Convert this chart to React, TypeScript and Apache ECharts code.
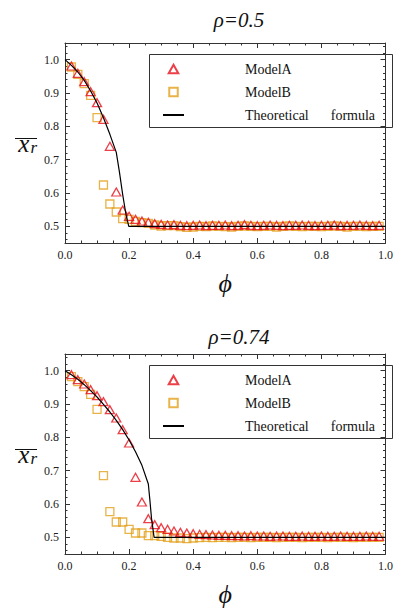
import React, { useEffect, useRef } from "react";
import * as echarts from "echarts";

// phi values of the simulated points
const PHI = [
  0.02, 0.04, 0.06, 0.08, 0.1, 0.12, 0.14, 0.16, 0.18, 0.2,
  0.22, 0.24, 0.26, 0.28, 0.3, 0.32, 0.34, 0.36, 0.38, 0.4,
  0.42, 0.44, 0.46, 0.48, 0.5, 0.52, 0.54, 0.56, 0.58, 0.6,
  0.62, 0.64, 0.66, 0.68, 0.7, 0.72, 0.74, 0.76, 0.78, 0.8,
  0.82, 0.84, 0.86, 0.88, 0.9, 0.92, 0.94, 0.96, 0.98,
];

// rho = 0.5
const TOP_A = [
  0.978, 0.956, 0.931, 0.901, 0.868, 0.818, 0.737, 0.6, 0.546, 0.527,
  0.518, 0.513, 0.509, 0.505, 0.503, 0.501, 0.502, 0.5, 0.499, 0.5,
  0.501, 0.499, 0.5, 0.5, 0.501, 0.499, 0.5, 0.502, 0.5, 0.499,
  0.5, 0.501, 0.5, 0.499, 0.5, 0.5, 0.501, 0.5, 0.499, 0.5,
  0.5, 0.501, 0.499, 0.5, 0.5, 0.501, 0.5, 0.499, 0.5,
];
const TOP_B = [
  0.978, 0.956, 0.928, 0.893, 0.826, 0.624, 0.567, 0.543, 0.523, 0.521,
  0.515, 0.511, 0.509, 0.504, 0.501, 0.502, 0.502, 0.499, 0.497, 0.498,
  0.5, 0.499, 0.501, 0.5, 0.499, 0.498, 0.5, 0.501, 0.5, 0.499,
  0.5, 0.5, 0.498, 0.5, 0.501, 0.5, 0.499, 0.5, 0.5, 0.499,
  0.5, 0.501, 0.5, 0.498, 0.5, 0.5, 0.499, 0.5, 0.5,
];
const TH_TOP_X = [0, 0.02, 0.04, 0.06, 0.08, 0.1, 0.12, 0.14, 0.16, 0.17, 0.18, 0.19, 0.199, 1.0];
const TH_TOP_Y = [1.0, 0.983, 0.963, 0.938, 0.906, 0.87, 0.826, 0.776, 0.722, 0.662, 0.595, 0.537, 0.5, 0.5];

// rho = 0.74
const BOT_A = [
  0.985, 0.97, 0.957, 0.94, 0.922, 0.904, 0.88, 0.855, 0.82, 0.78,
  0.677, 0.603, 0.553, 0.535, 0.526, 0.521, 0.516, 0.512, 0.51, 0.508,
  0.506, 0.505, 0.504, 0.503, 0.503, 0.502, 0.502, 0.501, 0.502, 0.501,
  0.501, 0.5, 0.501, 0.501, 0.5, 0.5, 0.501, 0.5, 0.5, 0.501,
  0.5, 0.5, 0.501, 0.5, 0.5, 0.5, 0.501, 0.5, 0.5,
];
const BOT_B = [
  0.982, 0.967, 0.952, 0.929, 0.884, 0.685, 0.577, 0.546, 0.546, 0.524,
  0.513, 0.513, 0.505, 0.505, 0.503, 0.5, 0.498, 0.498, 0.496, 0.498,
  0.499, 0.5, 0.499, 0.5, 0.5, 0.499, 0.5, 0.5, 0.499, 0.5,
  0.5, 0.5, 0.499, 0.5, 0.5, 0.5, 0.499, 0.5, 0.5, 0.5,
  0.499, 0.5, 0.5, 0.5, 0.499, 0.5, 0.5, 0.5, 0.5,
];
const TH_BOT_X = [0, 0.02, 0.04, 0.06, 0.08, 0.1, 0.12, 0.14, 0.16, 0.18, 0.2, 0.22, 0.24, 0.26, 0.265, 0.27, 0.278, 1.0];
const TH_BOT_Y = [1.0, 0.988, 0.974, 0.958, 0.94, 0.921, 0.899, 0.876, 0.851, 0.823, 0.792, 0.757, 0.716, 0.66, 0.61, 0.556, 0.5, 0.5];

// ticks
const X_MAJOR = [0, 0.2, 0.4, 0.6, 0.8, 1.0];
const X_MINOR = [0.05, 0.1, 0.15, 0.25, 0.3, 0.35, 0.45, 0.5, 0.55, 0.65, 0.7, 0.75, 0.85, 0.9, 0.95];
const Y_MAJOR = [0.5, 0.6, 0.7, 0.8, 0.9, 1.0];
const Y_MINOR = [
  0.46, 0.48, 0.52, 0.54, 0.56, 0.58, 0.62, 0.64, 0.66, 0.68, 0.72, 0.74, 0.76, 0.78,
  0.82, 0.84, 0.86, 0.88, 0.92, 0.94, 0.96, 0.98, 1.02, 1.04,
];

const TITLES = ["ρ=0.5", "ρ=0.74"];
const NAMES = ["ModelA", "ModelB", "Theoretical formula"];

const SERIF = "Liberation Serif";
const RED = "#e6101a";
const ORANGE = "#e2a01b";
const FRAME = "#333333";
const INK = "#111111";

const TRI_ICON = "path://M4.5,0L9,8L0,8Z";
const SQ_ICON = "path://M0,0L1,0L1,1L0,1Z";

const pairs = (xs: number[], ys: number[]) => xs.map((x, i) => [x, ys[i]]);

export default function App() {
  const ref = useRef<HTMLDivElement>(null);
  useEffect(() => {
    const chart = echarts.init(ref.current!, null, { renderer: "svg" });
    const gridTops = [43, 354];
    const panels = [
      { a: TOP_A, b: TOP_B, tx: TH_TOP_X, ty: TH_TOP_Y },
      { a: BOT_A, b: BOT_B, tx: TH_BOT_X, ty: TH_BOT_Y },
    ];
    const grid: any[] = [];
    const xAxis: any[] = [];
    const yAxis: any[] = [];
    const series: any[] = [];
    const legend: any[] = [];
    const title: any[] = [];
    const graphic: any[] = [];

    const tickRich = { n: { fontFamily: SERIF, fontSize: 12, color: "#222" } };

    panels.forEach((p, g) => {
      const top = gridTops[g];
      grid.push({ left: 65, top, width: 327, height: 200, show: false });
      const xBase = xAxis.length;
      const yBase = yAxis.length;
      const mkX = (position: string, major: boolean, labels: boolean) => ({
        type: "value",
        gridIndex: g,
        min: 0,
        max: 1,
        position,
        axisLine: { show: major, onZero: false, lineStyle: { color: FRAME, width: 1 } },
        axisTick: {
          show: true,
          inside: true,
          length: major ? 5 : 2.5,
          customValues: major ? X_MAJOR : X_MINOR,
          lineStyle: { color: FRAME, width: 1 },
        },
        axisLabel: {
          show: labels,
          customValues: X_MAJOR,
          formatter: (v: number) => "{n|" + v.toFixed(1) + "}",
          rich: tickRich,
          margin: 6,
          fontFamily: SERIF,
          fontSize: 12,
          showMinLabel: true,
          showMaxLabel: true,
        },
        splitLine: { show: false },
        name: labels ? "{p|ϕ}" : "",
        nameLocation: "middle",
        nameGap: 27,
        nameTextStyle: {
          fontFamily: SERIF,
          rich: { p: { fontFamily: SERIF, fontStyle: "italic", fontSize: 26, color: INK } },
        },
      });
      const mkY = (position: string, major: boolean, labels: boolean) => ({
        type: "value",
        gridIndex: g,
        min: 0.45,
        max: 1.05,
        position,
        axisLine: { show: major, onZero: false, lineStyle: { color: FRAME, width: 1 } },
        axisTick: {
          show: true,
          inside: true,
          length: major ? 5 : 2.5,
          customValues: major ? Y_MAJOR : Y_MINOR,
          lineStyle: { color: FRAME, width: 1 },
        },
        axisLabel: {
          show: labels,
          customValues: Y_MAJOR,
          formatter: (v: number) => "{n|" + v.toFixed(1) + "}",
          rich: tickRich,
          margin: 6,
          fontFamily: SERIF,
          fontSize: 12,
          showMinLabel: true,
          showMaxLabel: true,
        },
        splitLine: { show: false },
        name: labels ? "{x|x}{r|r}" : "",
        nameLocation: "middle",
        nameRotate: 0,
        nameGap: 28,
        nameTextStyle: {
          fontFamily: SERIF,
          rich: {
            x: { fontFamily: SERIF, fontStyle: "italic", fontSize: 25, color: INK },
            r: { fontFamily: SERIF, fontStyle: "italic", fontSize: 17, color: INK, padding: [8, 0, 0, 1] },
          },
        },
      });
      xAxis.push(mkX("bottom", true, true), mkX("bottom", false, false), mkX("top", true, false), mkX("top", false, false));
      yAxis.push(mkY("left", true, true), mkY("left", false, false), mkY("right", true, false), mkY("right", false, false));

      series.push(
        {
          type: "scatter",
          name: NAMES[0],
          xAxisIndex: xBase,
          yAxisIndex: yBase,
          symbol: "triangle",
          symbolSize: [9, 8],
          symbolOffset: [0, -1],
          itemStyle: { color: "rgba(255,255,255,0)", borderColor: RED, borderWidth: 1.3 },
          data: pairs(PHI, p.a),
          z: 3,
        },
        {
          type: "scatter",
          name: NAMES[1],
          xAxisIndex: xBase,
          yAxisIndex: yBase,
          symbol: "rect",
          symbolSize: 8,
          itemStyle: { color: "rgba(255,255,255,0)", borderColor: ORANGE, borderWidth: 1.3 },
          data: pairs(PHI, p.b),
          z: 2,
        },
        {
          type: "line",
          name: NAMES[2],
          xAxisIndex: xBase,
          yAxisIndex: yBase,
          symbol: "none",
          showSymbol: false,
          lineStyle: { color: "#000", width: 1.2 },
          itemStyle: { color: "rgba(0,0,0,0)", borderWidth: 0 },
          data: pairs(p.tx, p.ty),
          z: 4,
        }
      );

      legend.push({
        orient: "vertical",
        left: 149,
        top: top + 12,
        data: [
          { name: NAMES[0], icon: TRI_ICON },
          { name: NAMES[1], icon: SQ_ICON },
          { name: NAMES[2], itemStyle: { color: "rgba(0,0,0,0)", borderWidth: 0 } },
        ],
        symbolKeepAspect: true,
        selectedMode: false,
        borderWidth: 0,
        padding: [7, 10, 7, 13],
        itemWidth: 21,
        itemHeight: 8.5,
        itemGap: 9,
        formatter: (name: string) =>
          name === "Theoretical formula" ? "{t|Theoretical}{f|formula}" : "{t|" + name + "}",
        textStyle: {
          fontFamily: SERIF,
          fontSize: 14,
          color: INK,
          rich: {
            t: { fontFamily: SERIF, fontSize: 14, color: INK, padding: [0, 0, 0, 56] },
            f: { fontFamily: SERIF, fontSize: 14, color: INK, padding: [0, 0, 0, 22] },
          },
        },
      });

      title.push({
        text: "{t|" + TITLES[g] + "}",
        left: 239,
        top: g === 0 ? 9 : 326,
        textAlign: "center",
        padding: 0,
        textStyle: {
          fontFamily: SERIF,
          fontWeight: "normal",
          rich: {
            t: { fontFamily: SERIF, fontStyle: "italic", fontWeight: "normal", fontSize: 21, color: INK },
          },
        },
      });

      // legend frame
      graphic.push({
        type: "rect",
        shape: { x: 149.5, y: top + 11.5, width: 243, height: 73 },
        style: { fill: "rgba(0,0,0,0)", stroke: FRAME, lineWidth: 1 },
        z: 10,
      });
      // overline of the y-axis symbol
      graphic.push({
        type: "line",
        shape: { x1: 15, y1: top + 95.5, x2: 37, y2: top + 95.5 },
        style: { stroke: INK, lineWidth: 1 },
      });
    });

    chart.setOption({
      animation: false,
      backgroundColor: "#fff",
      grid,
      xAxis,
      yAxis,
      series,
      legend,
      title,
      graphic,
    });
    return () => chart.dispose();
  }, []);
  return <div ref={ref} style={{ position: "fixed", left: 0, top: 0, width: 396, height: 611 }} />;
}
